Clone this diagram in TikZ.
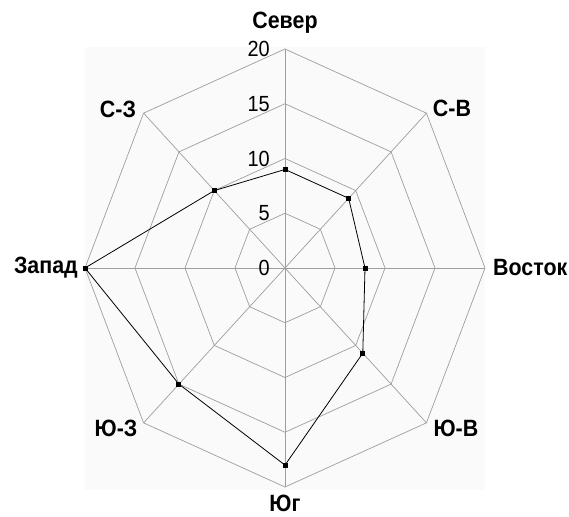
\documentclass[tikz,border=0pt]{standalone}
\usepackage{fontspec}
\setmainfont{Liberation Sans}
\newcommand{\tallt}[1]{\scalebox{1}[1.1]{#1}}
\begin{document}
\begin{tikzpicture}[x=1bp,y=-1bp,
  grid/.style={draw=black!38,line width=0.7bp},
  dataline/.style={draw=black,line width=0.8bp},
  marker/.style={fill=black,inner sep=0pt,minimum size=5bp,draw=none},
  axlabel/.style={font=\fontsize{21.5}{22}\selectfont\bfseries,inner sep=0pt},
  ticklabel/.style={font=\fontsize{20}{20}\selectfont,inner sep=0pt,anchor=east}]
\useasboundingbox (0,0) rectangle (569,517);
\fill[white] (0,0) rectangle (569,517);
\fill[black!2] (85,47) rectangle (485,490);
\def\cx{285}\def\cy{268}
\coordinate (O) at (\cx,\cy);
% rings
\foreach \r in {5,10,15,20}{
  \draw[grid] \foreach \a [count=\i] in {90,45,0,-45,-90,-135,180,135}{
    \ifnum\i=1 ({\cx+10*\r*cos(\a)},{\cy-10.95*\r*sin(\a)}) \else -- ({\cx+10*\r*cos(\a)},{\cy-10.95*\r*sin(\a)})\fi } -- cycle;
}
% spokes
\foreach \a [count=\i] in {90,45,0,-45,-90,-135,180,135}{
  \coordinate (v\i) at ({\cx+200*cos(\a)},{\cy-219*sin(\a)});
  \draw[grid] (O) -- (v\i);
}
% data
\foreach \a/\v [count=\i] in {90/9,45/9,0/8,-45/11,-90/18,-135/15,180/20,135/10}{
  \node[marker] (d\i) at ({\cx+10*\v*cos(\a)},{\cy-10.95*\v*sin(\a)}) {};
}
\draw[dataline] (d1.center) -- (d2.center) -- (d3.center) -- (d4.center) -- (d5.center) -- (d6.center) -- (d7.center) -- (d8.center) -- cycle;
\foreach \i in {1,...,8}{\node[marker] at (d\i) {};}
% tick labels
\foreach \v in {0,5,10,15,20}{
  \node[ticklabel] (t\v) at (270,{\cy-10.95*\v}) {\tallt{\v}};
}
% axis labels
\node[axlabel] (lN) at (285,23) {\tallt{Север}};
\node[axlabel] (lNE) at (452,108) {\tallt{С-В}};
\node[axlabel,anchor=west] (lE) at (493,268) {\tallt{Восток}};
\node[axlabel] (lSE) at (456,428) {\tallt{Ю-В}};
\node[axlabel] (lS) at (285,503) {\tallt{Юг}};
\node[axlabel] (lSW) at (116,428) {\tallt{Ю-З}};
\node[axlabel,anchor=east] (lW) at (78,268) {\tallt{Запад}};
\node[axlabel] (lNW) at (118,109) {\tallt{С-З}};
\end{tikzpicture}
\end{document}
